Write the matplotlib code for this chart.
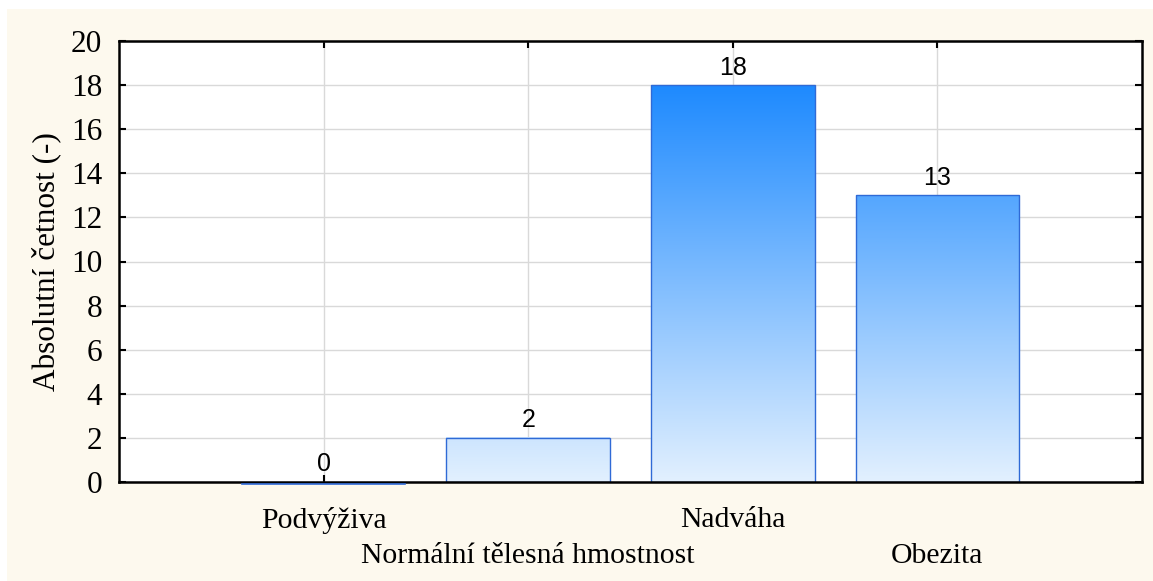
import numpy as np
import matplotlib
matplotlib.use("Agg")
import matplotlib.pyplot as plt
from matplotlib.colors import LinearSegmentedColormap
from matplotlib.patches import Rectangle

# data
categories = ["Podvýživa", "Normální tělesná hmostnost", "Nadváha", "Obezita"]
counts = [0, 2, 18, 13]
y_ticks = [0, 2, 4, 6, 8, 10, 12, 14, 16, 18, 20]

SERIF = "Liberation Serif"
SANS = "Liberation Sans"

W, H = 1153, 581
fig = plt.figure(figsize=(W / 100, H / 100), dpi=100, facecolor="white")

# cream panel behind everything
fig.patches.append(Rectangle((7 / W, 0), 1 - 7 / W, 1 - 9 / H,
                             transform=fig.transFigure, facecolor="#fdf9ee",
                             edgecolor="none", zorder=-10))

ax = fig.add_axes([119 / W, 1 - 482 / H, (1142 - 119) / W, (482 - 41) / H])
ax.set_facecolor("white")

xpos = np.arange(1, len(categories) + 1)
bar_w = 0.8
ymax = max(counts)

# vertical gradient tied to the value scale
cmap = LinearSegmentedColormap.from_list("blues", ["#e2f0fe", "#1e8aff"])
grad = np.linspace(0, 1, 256).reshape(-1, 1)

for x, v in zip(xpos, counts):
    x0, x1 = x - bar_w / 2, x + bar_w / 2
    if v > 0:
        ax.imshow(grad * v / ymax, extent=(x0, x1, 0, v), origin="lower",
                  aspect="auto", cmap=cmap, vmin=0, vmax=1, zorder=2)
        ax.add_patch(Rectangle((x0, 0), bar_w, v, facecolor="none",
                               edgecolor="#2f6ad6", linewidth=1.0, zorder=3))
    else:
        # empty bar: thin outline just under the baseline
        ax.plot([x0, x1], [-0.08, -0.08], color="#2f6ad6", linewidth=1.2,
                zorder=6, clip_on=False)
    ax.text(x, v + 0.25, str(v), ha="center", va="bottom",
            fontsize=18, family=SANS, color="black", zorder=4)

ax.set_xlim(0, 5)
ax.set_ylim(0, 20)
ax.set_yticks(y_ticks)
ax.set_yticklabels([str(t) for t in y_ticks], family=SERIF, fontsize=22.5)
ax.set_xticks(xpos)
ax.set_xticklabels([])

# staggered category labels
for i, (x, name) in enumerate(zip(xpos, categories)):
    y_off = -0.056 if i % 2 == 0 else -0.138
    ax.text(x, y_off, name, transform=ax.get_xaxis_transform(),
            ha="center", va="top", family=SERIF, fontsize=21.4)

ax.set_ylabel("Absolutní četnost (-)", family=SERIF, fontsize=22.5, labelpad=7)

ax.grid(True, color="#d9d9d9", linewidth=1.0, zorder=0)
ax.set_axisbelow(True)
ax.tick_params(axis="both", direction="in", length=5, width=1.5,
               top=True, right=True, pad=12)
for sp in ax.spines.values():
    sp.set_linewidth(1.8)
    sp.set_color("black")
    sp.set_zorder(5)

fig.savefig("out.png", dpi=100, facecolor=fig.get_facecolor())
